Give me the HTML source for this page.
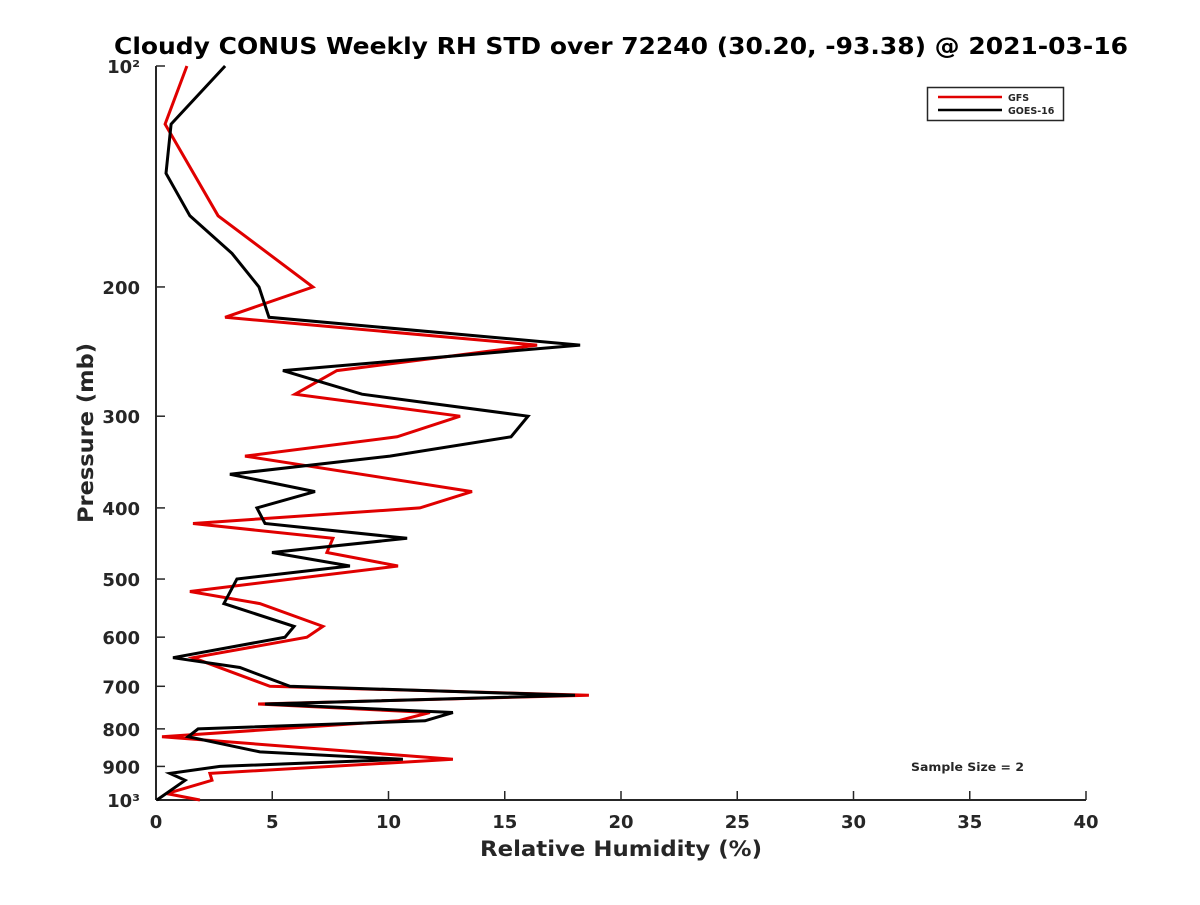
<!DOCTYPE html>
<html><head><meta charset="utf-8"><style>
body{margin:0;background:#fff;}
svg text{font-family:"DejaVu Sans","Liberation Sans",sans-serif;font-weight:bold;fill:#262626;}
</style></head><body>
<svg id="chart" width="1200" height="900" xmlns="http://www.w3.org/2000/svg">
<rect width="1200" height="900" fill="#fff"/>
<text x="114" y="54" font-size="23" textLength="1014" lengthAdjust="spacingAndGlyphs" fill="#000" style="fill:#000">Cloudy CONUS Weekly RH STD over 72240 (30.20, -93.38) @ 2021-03-16</text>
<g id="axes"></g>
<g id="series"></g>
<g>
<rect x="927.5" y="87.5" width="136" height="33" fill="#fff" stroke="#262626" stroke-width="1.5"/>
<line x1="938" y1="97" x2="1002" y2="97" stroke="#e00000" stroke-width="2.5"/>
<text x="1008" y="101" font-size="9.5">GFS</text>
<line x1="938" y1="110" x2="1002" y2="110" stroke="#000" stroke-width="2.5"/>
<text x="1008" y="114" font-size="9.5">GOES-16</text>
</g>
<text x="911" y="771" font-size="11.5" textLength="113" lengthAdjust="spacingAndGlyphs">Sample Size = 2</text>
<text x="480" y="856" font-size="21" textLength="282" lengthAdjust="spacingAndGlyphs">Relative Humidity (%)</text>
<text transform="translate(93,523) rotate(-90)" font-size="21" textLength="180" lengthAdjust="spacingAndGlyphs">Pressure (mb)</text>
</svg>
<script>
const xTicks=[0,5,10,15,20,25,30,35,40];
const yTicks=[100,200,300,400,500,600,700,800,900,1000];
const yTickLabels=["10²","200","300","400","500","600","700","800","900","10³"];
const gfsP=[100,120,160,200,220,240,260,280,300,320,340,380,400,420,440,460,480,520,540,580,600,640,700,720,740,760,780,820,880,920,940,980,1000];
const gfsRH=[1.33,0.39,2.67,6.75,2.97,16.39,7.78,5.98,13.08,10.37,3.83,13.59,11.35,1.59,7.61,7.35,10.41,1.46,4.47,7.18,6.49,1.59,4.9,18.62,4.39,11.78,10.41,0.26,12.77,2.32,2.41,0.47,1.89];
const goesP=[100,120,140,160,180,200,220,240,260,280,300,320,340,360,380,400,420,440,460,480,500,540,580,600,640,660,700,720,740,760,780,800,820,860,880,900,920,940,1000];
const goesRH=[2.97,0.65,0.43,1.46,3.27,4.43,4.86,18.24,5.46,8.86,16.0,15.27,10.06,3.18,6.84,4.34,4.69,10.8,4.99,8.34,3.48,2.92,5.94,5.55,0.73,3.61,5.76,18.02,4.69,12.77,11.57,1.81,1.38,4.47,10.62,2.75,0.6,1.25,0.04];
const NS="http://www.w3.org/2000/svg";
const X0=156,X1=1086,Y0=66,Y1=800;
function xs(v){return X0+(v-0)/(40-0)*(X1-X0);}
function ys(p){return Y0+(Math.log10(p)-2)*(Y1-Y0);}
function mk(t,a,parent){const e=document.createElementNS(NS,t);for(const k in a)e.setAttribute(k,a[k]);parent.appendChild(e);return e;}
const ax=document.getElementById('axes');
let l=mk('line',{x1:X0,y1:Y0,x2:X0,y2:Y1,stroke:'#262626','stroke-width':2},ax);


l=mk('line',{x1:X0,y1:Y1,x2:X1,y2:Y1,stroke:'#262626','stroke-width':2},ax);


xTicks.forEach(v=>{
 const t=mk('line',{x1:xs(v),y1:Y1,x2:xs(v),y2:Y1-9,stroke:'#262626','stroke-width':1.5},ax);
 
 
 const tx=mk('text',{x:xs(v),y:Y1+28,'font-size':18,'text-anchor':'middle'},ax);
 tx.textContent=v;
 
 
});
yTicks.forEach((p,i)=>{
 const t=mk('line',{x1:X0,y1:ys(p),x2:X0+9,y2:ys(p),stroke:'#262626','stroke-width':1.5},ax);
 
 
 const tx=mk('text',{x:X0-16,y:ys(p)+7,'font-size':18,'text-anchor':'end'},ax);
 tx.textContent=yTickLabels[i];
 
 
});
const sg=document.getElementById('series');
function line(P,R,color,name){
 const d=P.map((p,i)=>(i?'L':'M')+xs(R[i]).toFixed(1)+','+ys(p).toFixed(1)).join('');
 const e=mk('path',{d:d,fill:'none',stroke:color,'stroke-width':3,'stroke-linejoin':'miter'},sg);
 
 
}
line(gfsP,gfsRH,'#e00000','gfs-line');
line(goesP,goesRH,'#000','goes16-line');
</script>
</body></html>
